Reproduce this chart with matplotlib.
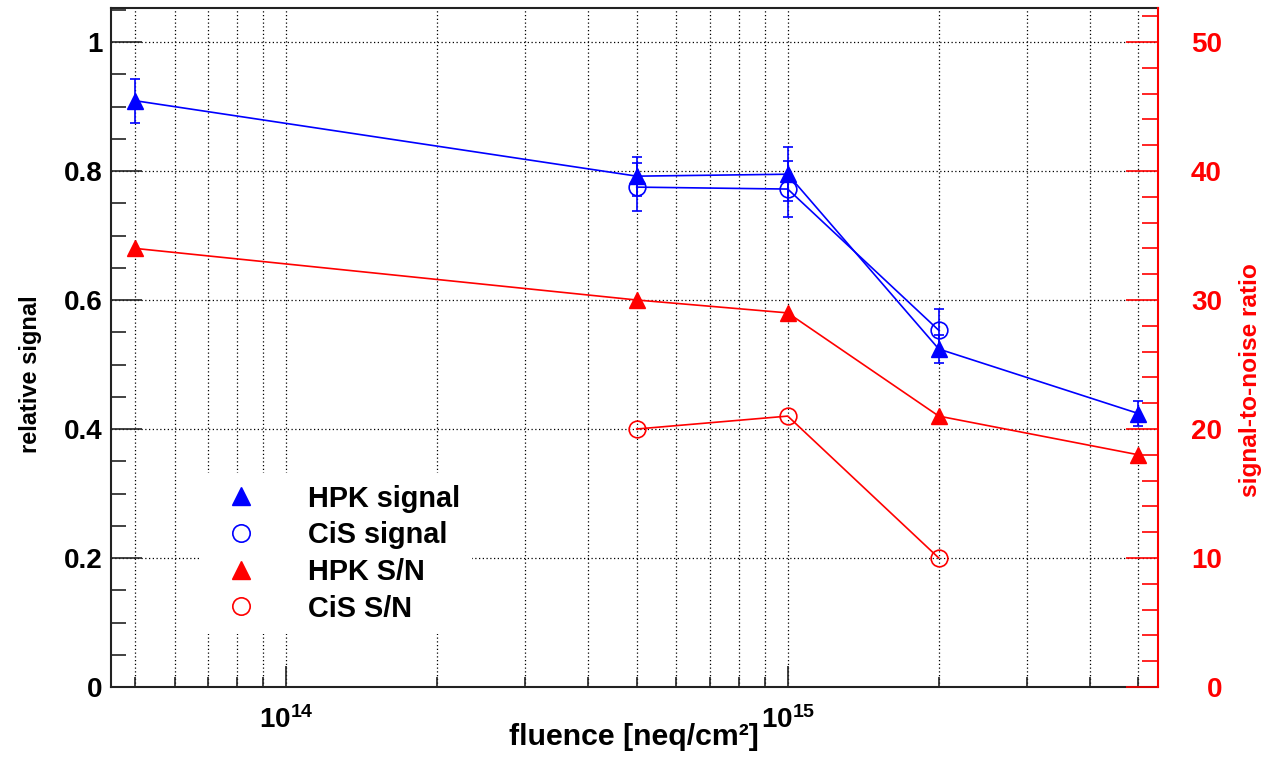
import matplotlib
matplotlib.use("Agg")
import matplotlib.pyplot as plt
from matplotlib.ticker import LogLocator, NullFormatter, FuncFormatter, MultipleLocator
from matplotlib.lines import Line2D
import numpy as np

# ---------------- data ----------------
fluence_hpk = [5e13, 5e14, 1e15, 2e15, 5e15]
hpk_signal = [0.909, 0.792, 0.795, 0.524, 0.424]
hpk_signal_err = [0.034, 0.030, 0.042, 0.022, 0.020]
hpk_sn = [34.0, 30.0, 29.0, 21.0, 18.0]

fluence_cis = [5e14, 1e15, 2e15]
cis_signal = [0.775, 0.772, 0.553]
cis_signal_err = [0.037, 0.043, 0.033]
cis_sn = [20.0, 21.0, 10.0]

legend_labels = ["HPK signal", "CiS signal", "HPK S/N", "CiS S/N"]
x_title = "fluence [neq/cm\u00b2]"
y_title = "relative signal"
y2_title = "signal-to-noise ratio"

# ---------------- style ----------------
FONT = "Liberation Sans"
plt.rcParams["font.family"] = [FONT, "DejaVu Sans"]
plt.rcParams["font.weight"] = "bold"
plt.rcParams["mathtext.fontset"] = "custom"
plt.rcParams["mathtext.bf"] = FONT + ":bold"
plt.rcParams["mathtext.rm"] = FONT + ":bold"

W, H = 1264, 757
fig = plt.figure(figsize=(W / 100, H / 100), dpi=100)
L, R, T, B = 111, 1158, 8, 687
ax = fig.add_axes([L / W, (H - B) / H, (R - L) / W, (B - T) / H])
ax2 = ax.twinx()

BLUE = (0, 0, 1)
RED = (1, 0, 0)
FS_TICK = 20
FS_TITLE = 17

# x axis
ax.set_xscale("log")
ax.set_xlim(10 ** 13.651, 10 ** 15.738)
ax.xaxis.set_major_locator(LogLocator(base=10, numticks=10))
ax.xaxis.set_minor_locator(LogLocator(base=10, subs=np.arange(2, 10), numticks=20))
ax.xaxis.set_major_formatter(FuncFormatter(lambda v, p: r"$\mathbf{10^{%d}}$" % int(round(np.log10(v)))))
ax.xaxis.set_minor_formatter(NullFormatter())

# left y axis
ymax = (B - T) / (B - 42)
ax.set_ylim(0, ymax)
ax.yaxis.set_major_locator(MultipleLocator(0.2))
ax.yaxis.set_minor_locator(MultipleLocator(0.05))
ax.yaxis.set_major_formatter(FuncFormatter(lambda v, p: "%g" % round(v, 3)))

# right y axis
ax2.set_ylim(0, ymax * 50)
ax2.yaxis.set_major_locator(MultipleLocator(10))
ax2.yaxis.set_minor_locator(MultipleLocator(2))
ax2.yaxis.set_major_formatter(FuncFormatter(lambda v, p: "%d" % round(v)))

# grid
ax.grid(which="both", axis="x", color="black", linestyle=(0, (1, 2)), linewidth=0.9)
ax.grid(which="major", axis="y", color="black", linestyle=(0, (1, 2)), linewidth=0.9)
ax.set_axisbelow(True)

# ticks
ax.tick_params(axis="y", which="major", direction="in", length=22, width=1.2, color="#222222",
               labelsize=FS_TICK, pad=6, right=False)
ax.tick_params(axis="y", which="minor", direction="in", length=11, width=1.2, color="#222222", right=False)
ax.tick_params(axis="x", which="major", direction="in", length=15, width=1.2, color="#222222",
               labelsize=FS_TICK, pad=14, top=False)
ax.tick_params(axis="x", which="minor", direction="in", length=7.5, width=1.2, color="#222222", top=False)
ax2.tick_params(axis="y", which="major", direction="in", length=23, width=1.2, color=RED,
                labelcolor=RED, labelsize=FS_TICK, pad=46)
ax2.tick_params(axis="y", which="minor", direction="in", length=11.5, width=1.2, color=RED)
for lab in ax2.get_yticklabels():
    lab.set_horizontalalignment("right")

for s in ["left", "bottom", "top"]:
    ax.spines[s].set_color("#222222")
    ax.spines[s].set_linewidth(1.5)
ax.spines["right"].set_visible(False)
for s in ["left", "bottom", "top"]:
    ax2.spines[s].set_visible(False)
ax2.spines["right"].set_color(RED)
ax2.spines["right"].set_linewidth(1.5)

# ---------------- data drawing ----------------
ax.errorbar(fluence_hpk, hpk_signal, yerr=hpk_signal_err, color=BLUE, marker="^", markersize=12,
            linewidth=1.2, elinewidth=1.2, capsize=3.6, capthick=1.2, zorder=5)
ax.errorbar(fluence_cis, cis_signal, yerr=cis_signal_err, color=BLUE, marker="o", markersize=12,
            markerfacecolor="none", markeredgewidth=1.2, linewidth=1.2, elinewidth=1.2,
            capsize=3.6, capthick=1.2, zorder=4)
ax2.plot(fluence_hpk, hpk_sn, color=RED, marker="^", markersize=12, linewidth=1.2, zorder=5)
ax2.plot(fluence_cis, cis_sn, color=RED, marker="o", markersize=12, markerfacecolor="none",
         markeredgewidth=1.2, linewidth=1.2, zorder=4)

# ---------------- legend ----------------
handles = [
    Line2D([], [], color=BLUE, marker="^", linestyle="none", markersize=12.5),
    Line2D([], [], color=BLUE, marker="o", markerfacecolor="none", markeredgewidth=1.2,
           linestyle="none", markersize=12.5),
    Line2D([], [], color=RED, marker="^", linestyle="none", markersize=12.5),
    Line2D([], [], color=RED, marker="o", markerfacecolor="none", markeredgewidth=1.2,
           linestyle="none", markersize=12.5),
]
leg = ax2.legend(handles, legend_labels, loc="upper left",
                 bbox_to_anchor=((201 - L) / (R - L), (B - 473) / (B - T)),
                 borderaxespad=0, frameon=True, fancybox=False, framealpha=1,
                 facecolor="white", edgecolor="none", prop={"size": 20.8, "weight": "bold"},
                 handlelength=1.95, handletextpad=1.35, labelspacing=0.30, borderpad=0.4)
leg.set_zorder(10)

# ---------------- titles ----------------
fig.text(634 / W, (H - 745) / H, x_title, ha="center", va="baseline",
         fontsize=21.8, fontweight="bold")
fig.text(30 / W, (H - 374) / H, y_title, ha="center", va="center", rotation=90,
         fontsize=FS_TITLE, fontweight="bold")
fig.text(1250 / W, (H - 380) / H, y2_title, ha="center", va="center", rotation=90,
         fontsize=17.6, fontweight="bold", color=RED)

fig.savefig("out.png", dpi=100, facecolor="white")
